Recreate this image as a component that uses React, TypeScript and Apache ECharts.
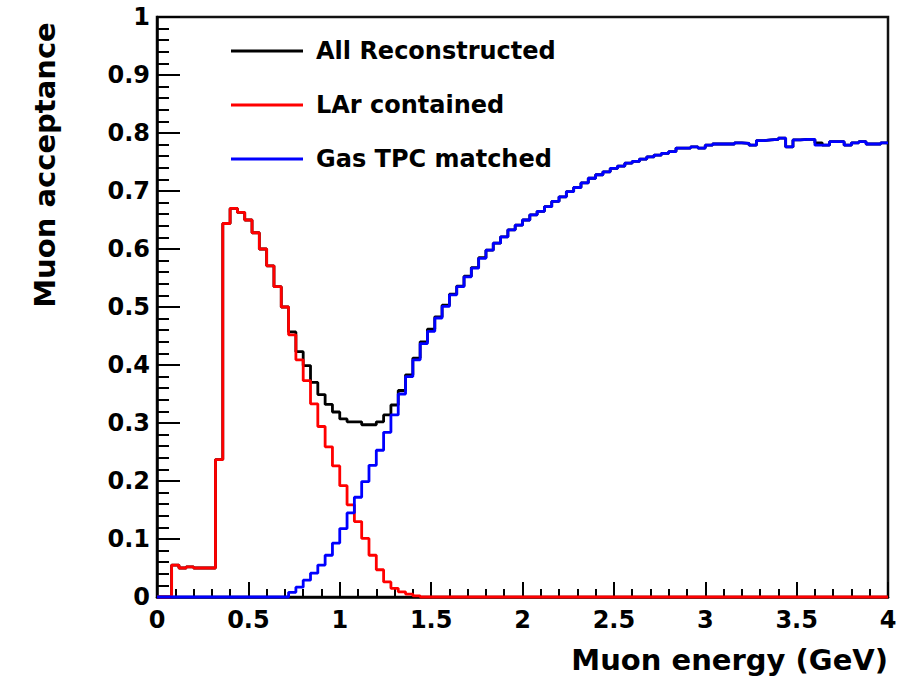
import React, { useEffect, useRef } from "react";
import * as echarts from "echarts";

// Histogram: 100 bins of 0.04 GeV from 0 to 4 GeV
const BIN_WIDTH = 0.04;
const X_MIN = 0;
const X_MAX = 4;
const X_TICK_STEP = 0.5;
const Y_TICK_STEP = 0.1;

const SERIES_NAMES = ["All Reconstructed", "LAr contained", "Gas TPC matched"];

// All reconstructed (black)
const allReconstructed = [
  0, 0, 0.055, 0.05, 0.052, 0.05, 0.05, 0.05, 0.237, 0.644,
  0.67, 0.663, 0.65, 0.628, 0.6, 0.571, 0.535, 0.5, 0.457, 0.423,
  0.399, 0.37, 0.349, 0.332, 0.319, 0.307, 0.302, 0.302, 0.297, 0.297,
  0.302, 0.314, 0.331, 0.356, 0.383, 0.412, 0.44, 0.462, 0.483, 0.503,
  0.522, 0.536, 0.553, 0.568, 0.585, 0.598, 0.61, 0.621, 0.633, 0.641,
  0.65, 0.659, 0.665, 0.673, 0.682, 0.69, 0.699, 0.706, 0.714, 0.722,
  0.728, 0.733, 0.739, 0.743, 0.748, 0.751, 0.755, 0.759, 0.762, 0.765,
  0.768, 0.774, 0.774, 0.776, 0.774, 0.779, 0.781, 0.781, 0.781, 0.783,
  0.782, 0.779, 0.787, 0.788, 0.789, 0.791, 0.776, 0.788, 0.789, 0.789,
  0.783, 0.779, 0.785, 0.785, 0.779, 0.783, 0.785, 0.781, 0.781, 0.783,
];

// LAr contained (red)
const larContained = [
  0, 0, 0.055, 0.05, 0.052, 0.05, 0.05, 0.05, 0.237, 0.644,
  0.67, 0.663, 0.65, 0.628, 0.6, 0.571, 0.535, 0.5, 0.452, 0.409,
  0.373, 0.333, 0.294, 0.259, 0.226, 0.192, 0.159, 0.13, 0.101, 0.072,
  0.047, 0.026, 0.015, 0.009, 0.005, 0.002, 0, 0, 0, 0,
  0, 0, 0, 0, 0, 0, 0, 0, 0, 0,
  0, 0, 0, 0, 0, 0, 0, 0, 0, 0,
  0, 0, 0, 0, 0, 0, 0, 0, 0, 0,
  0, 0, 0, 0, 0, 0, 0, 0, 0, 0,
  0, 0, 0, 0, 0, 0, 0, 0, 0, 0,
  0, 0, 0, 0, 0, 0, 0, 0, 0, 0,
];

// Gas TPC matched (blue)
const gasTpcMatched = [
  0, 0, 0, 0, 0, 0, 0, 0, 0, 0,
  0, 0, 0, 0, 0, 0, 0, 0, 0.008, 0.017,
  0.029, 0.041, 0.055, 0.072, 0.093, 0.118, 0.145, 0.172, 0.199, 0.227,
  0.253, 0.284, 0.314, 0.35, 0.38, 0.409, 0.437, 0.458, 0.481, 0.501,
  0.521, 0.535, 0.552, 0.567, 0.584, 0.598, 0.61, 0.621, 0.633, 0.641,
  0.65, 0.659, 0.665, 0.673, 0.682, 0.69, 0.699, 0.706, 0.714, 0.722,
  0.728, 0.733, 0.739, 0.743, 0.748, 0.751, 0.755, 0.759, 0.762, 0.765,
  0.768, 0.774, 0.774, 0.776, 0.774, 0.779, 0.781, 0.781, 0.781, 0.783,
  0.782, 0.779, 0.787, 0.788, 0.789, 0.791, 0.776, 0.788, 0.789, 0.789,
  0.779, 0.779, 0.785, 0.785, 0.779, 0.783, 0.785, 0.781, 0.781, 0.783,
];

const COLORS = ["#000000", "#ff0000", "#0000ff"];
const FONT = "'DejaVu Sans', 'Liberation Sans', Arial, sans-serif";

function toSteps(values: number[]): [number, number][] {
  const pts: [number, number][] = values.map((v, i) => [
    Math.round(i * BIN_WIDTH * 1000) / 1000,
    v,
  ]);
  pts.push([Math.round(values.length * BIN_WIDTH * 1000) / 1000, values[values.length - 1]]);
  return pts;
}

export default function App() {
  const ref = useRef<HTMLDivElement>(null);

  useEffect(() => {
    if (!ref.current) return;
    document.body.style.margin = "0";
    const chart = echarts.init(ref.current, undefined, { renderer: "svg" });
    const datasets = [allReconstructed, larContained, gasTpcMatched];

    chart.setOption({
      animation: false,
      backgroundColor: "#ffffff",
      grid: {
        left: 157,
        right: 22,
        top: 17,
        bottom: 88,
        show: true,
        borderColor: "#111",
        borderWidth: 2.5,
        backgroundColor: "transparent",
      },
      legend: {
        orient: "vertical",
        left: 226,
        top: 33,
        itemWidth: 72,
        itemHeight: 3,
        itemGap: 28,
        icon: "rect",
        selectedMode: false,
        data: SERIES_NAMES,
        textStyle: {
          fontFamily: FONT,
          fontWeight: "bold",
          fontSize: 24,
          color: "#000",
          lineHeight: 26,
          padding: [0, 0, 0, 8],
        },
      },
      xAxis: {
        type: "value",
        min: X_MIN,
        max: X_MAX,
        interval: X_TICK_STEP,
        axisLine: { show: true, lineStyle: { color: "#000", width: 2.5 } },
        axisTick: { show: true, inside: true, length: 15, lineStyle: { color: "#000", width: 2 } },
        minorTick: { show: true, splitNumber: 5, length: 8, lineStyle: { color: "#000", width: 2 } },
        splitLine: { show: false },
        axisLabel: {
          margin: 11,
          fontFamily: FONT,
          fontWeight: "bold",
          fontSize: 24,
          color: "#000",
        },
      },
      yAxis: {
        type: "value",
        min: 0,
        max: 1,
        interval: Y_TICK_STEP,
        axisLine: { show: true, lineStyle: { color: "#000", width: 2.5 } },
        axisTick: { show: true, inside: true, length: 23, lineStyle: { color: "#000", width: 2 } },
        minorTick: { show: true, splitNumber: 5, length: 12, lineStyle: { color: "#000", width: 2 } },
        splitLine: { show: false },
        axisLabel: {
          margin: 7,
          fontFamily: FONT,
          fontWeight: "bold",
          fontSize: 24,
          color: "#000",
        },
      },
      graphic: [
        {
          type: "text",
          x: 45,
          y: 165,
          rotation: Math.PI / 2,
          style: {
            text: "Muon acceptance",
            fontFamily: FONT,
            fontWeight: "bold",
            fontSize: 29,
            fill: "#000",
            align: "center",
            verticalAlign: "middle",
          },
        },
        {
          type: "text",
          x: 888,
          y: 660,
          style: {
            text: "Muon energy (GeV)",
            fontFamily: FONT,
            fontWeight: "bold",
            fontSize: 29,
            fill: "#000",
            align: "right",
            verticalAlign: "middle",
          },
        },
      ],
      series: datasets.map((vals, i) => ({
        name: SERIES_NAMES[i],
        type: "line",
        step: "end",
        symbol: "none",
        clip: false,
        data: toSteps(vals),
        lineStyle: { color: COLORS[i], width: 2.8 },
        itemStyle: { color: COLORS[i] },
        z: 2 + i,
      })),
    });

    return () => chart.dispose();
  }, []);

  return (
    <div
      ref={ref}
      style={{ position: "fixed", left: 0, top: 0, width: 910, height: 685 }}
    />
  );
}
